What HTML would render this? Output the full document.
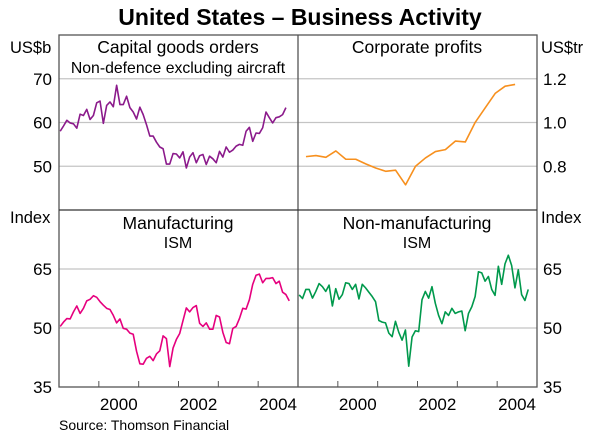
<!DOCTYPE html>
<html><head><meta charset="utf-8"><style>
body{margin:0;background:#fff;}
svg{display:block;font-family:"Liberation Sans",Arial,sans-serif;}
</style></head><body>
<svg id="c" width="600" height="445" viewBox="0 0 600 445"></svg>
<script>
const capGoods=[58.0,59.2,60.5,59.9,59.7,58.7,61.9,61.6,63.0,60.7,61.6,64.5,64.9,59.8,63.9,64.7,63.6,68.5,64.1,64.1,66.0,63.4,62.4,60.8,63.5,61.8,59.5,56.9,56.9,55.5,54.4,54.0,50.5,50.5,52.9,52.8,51.9,53.3,49.6,52.1,53.1,50.8,52.4,52.7,50.4,52.3,51.7,50.8,53.4,52.1,54.4,53.2,53.7,54.6,55.0,54.8,58.0,58.9,55.7,57.6,57.5,58.8,62.4,61.1,59.9,61.1,61.3,61.8,63.4];
const profits=[0.844,0.849,0.841,0.870,0.832,0.832,0.811,0.792,0.777,0.782,0.715,0.800,0.838,0.867,0.876,0.915,0.911,1.001,1.067,1.133,1.166,1.174];
const ismMfg=[50.4,51.5,52.4,52.3,54.1,55.6,53.7,55.0,56.9,57.3,58.2,57.8,56.7,55.8,55.0,54.7,53.2,51.3,52.3,49.9,49.7,48.7,48.4,44.1,40.9,40.8,42.3,42.8,41.7,43.4,44.2,48.0,47.3,40.2,44.9,47.1,48.6,51.9,55.1,54.1,55.2,55.7,51.2,50.4,51.3,49.7,49.7,53.2,52.8,48.9,46.3,46.0,49.9,50.4,52.4,55.0,54.8,57.2,61.1,63.4,63.7,61.5,62.6,62.6,62.8,61.3,61.9,59.1,58.5,56.9];
const ismNonMfg=[58.4,57.5,59.8,59.8,57.6,59.3,61.3,60.5,59.3,60.9,55.6,60.0,57.3,58.5,61.5,61.3,59.8,61.1,57.4,61.1,60.2,59.1,58.0,56.7,51.9,51.5,51.3,48.7,47.8,51.7,48.9,46.9,49.5,40.3,47.7,49.3,49.1,57.2,59.3,57.6,60.5,56.3,53.2,51.1,54.1,53.2,55.0,53.7,54.1,54.3,49.3,53.7,55.4,58.0,64.3,64.0,61.9,63.1,59.8,58.3,65.7,61.1,66.3,68.5,65.9,60.2,64.8,58.5,57.0,59.8];
const leftTicksTop=[50,60,70];
const rightTicksTop=[0.8,1.0,1.2];
const ticksBottom=[35,50,65];
const yearLabels=["2000","2002","2004"];

const svg=document.getElementById('c');
const NS='http://www.w3.org/2000/svg';
function mk(tag,attrs,parent){const e=document.createElementNS(NS,tag);for(const k in attrs)e.setAttribute(k,attrs[k]);(parent||svg).appendChild(e);return e;}
function txt(s,x,y,size,anchor,weight){const t=mk('text',{x:x,y:y,'font-size':size,'text-anchor':anchor||'start',fill:'#000'});if(weight)t.setAttribute('font-weight',weight);t.textContent=s;return t;}

const L0=59,L1=298,R1=537,T=35,M=210,B=387;
const xL=t=>L0+(t-1999)*(L1-L0)/6;
const xR=t=>L1+(t-1999)*(R1-L1)/6;
const yCap=v=>T+(80-v)*(M-T)/40;
const yProf=v=>T+(1.4-v)*(M-T)/0.8;
const yIsm=v=>M+(80-v)*(B-M)/45;

leftTicksTop.forEach(v=>{const g=mk('line',{x1:L0,x2:R1,y1:yCap(v),y2:yCap(v),stroke:'#c4c4c4','stroke-width':1.2});

});
ticksBottom.slice(1).forEach(v=>{const g=mk('line',{x1:L0,x2:R1,y1:yIsm(v),y2:yIsm(v),stroke:'#c4c4c4','stroke-width':1.2});

});

const ti=txt('United States – Business Activity',300,25,23,'middle','bold');



[['US$b',10,53,'start','unit-left-top'],['Index',10,223,'start','unit-left-bottom'],['US$tr',541,53,'start','unit-right-top'],['Index',541,223,'start','unit-right-bottom']].forEach(a=>{const t=txt(a[0],a[1],a[2],16.5,a[3]);

});

leftTicksTop.forEach(v=>{const t=txt(String(v),52,yCap(v)+6,17,'end');

});
rightTicksTop.forEach(v=>{const t=txt(v.toFixed(1),543,yProf(v)+6,17,'start');

});
ticksBottom.forEach(v=>{const t=txt(String(v),52,yIsm(v)+6,17,'end');


const t2=txt(String(v),543,yIsm(v)+6,17,'start');

});

for(let yr=2000;yr<=2004;yr++){[xL,xR].forEach(f=>{const l=mk('line',{x1:f(yr),x2:f(yr),y1:B,y2:B-6,stroke:'#555','stroke-width':1});

});}
yearLabels.forEach(s=>{const yr=+s;[xL,xR].forEach(f=>{const t=txt(s,f(yr+0.5),410,17,'middle');

});});

[['Capital goods orders',178,53,17.5],['Non-defence excluding aircraft',178,73,15.8],['Corporate profits',417,53,17.5],['Manufacturing',178,229,17.5],['ISM',178,248,16],['Non-manufacturing',417,229,17.5],['ISM',417,248,16]].forEach(a=>{const t=txt(a[0],a[1],a[2],a[3],'middle');

});

function line(arr,xf,yf,t0,step,color,name){const d=arr.map((v,i)=>(i?'L':'M')+xf(t0+i*step).toFixed(2)+','+yf(v).toFixed(2)).join('');
const p=mk('path',{d:d,fill:'none',stroke:color,'stroke-width':1.6,'stroke-linejoin':'round'});

}
line(capGoods,xL,yCap,1999.03,1/12,'#8b1a8b','capital-goods-line');
line(profits,xR,yProf,1999.2,0.25,'#f7901e','corporate-profits-line');
line(ismMfg,xL,yIsm,1999.03,1/12,'#e6007e','ism-manufacturing-line');
line(ismNonMfg,xR,yIsm,1999.03,1/12,'#00994c','ism-non-manufacturing-line');

const fr=mk('rect',{x:L0,y:T,width:R1-L0,height:B-T,fill:'none',stroke:'#555','stroke-width':1.3});


const v=mk('line',{x1:L1,x2:L1,y1:T,y2:B,stroke:'#555','stroke-width':1.3});


const h=mk('line',{x1:L0,x2:R1,y1:M,y2:M,stroke:'#333','stroke-width':1.3});



const src=txt('Source: Thomson Financial',59,430,14,'start');


</script>
</body></html>
